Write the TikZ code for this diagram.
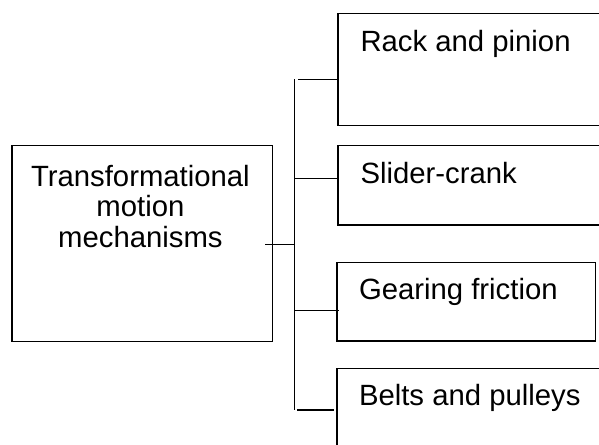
\documentclass[tikz,border=0pt]{standalone}
\usepackage{fontspec}
\setmainfont{Liberation Sans}
\usetikzlibrary{calc}
\begin{document}
\begin{tikzpicture}[x=1pt,y=-1pt,
  box/.style={draw=black, line width=1.4pt, inner sep=0pt, outer sep=0pt, anchor=north west},
  lbl/.style={font=\fontsize{29.3}{30.2}\selectfont, inner sep=0pt, outer sep=0pt},
  conn/.style={draw=black, line width=1.4pt}]
\useasboundingbox (0,0) rectangle (599,444);
\clip (0,0) rectangle (599,444);
% boxes
\node[box, minimum width=260.5pt, minimum height=195.7pt] (main) at (11.8,145.5) {};
\node[box, minimum width=282pt, minimum height=112.4pt] (rack) at (338,13.3) {};
\node[box, minimum width=282pt, minimum height=79.7pt] (slider) at (338,145.3) {};
\node[box, minimum width=258.7pt, minimum height=78.7pt] (gear) at (337,262.3) {};
\node[box, minimum width=283pt, minimum height=110pt] (belts) at (337,368.3) {};
% texts
\node[lbl, align=center, anchor=base] (maintxt) at (140.4,247) {Transformational\\motion\\mechanisms};
\node[lbl, anchor=base west] (racktxt) at (360.5,51.7) {Rack and pinion};
\node[lbl, anchor=base west] (slidertxt) at (360.5,183.3) {Slider-crank};
\node[lbl, anchor=base west] (geartxt) at (359,299.3) {Gearing friction};
\node[lbl, anchor=base west] (beltstxt) at (359,405) {Belts and pulleys};
% connectors
\coordinate (ttop) at (294.3,79.3);
\coordinate (tbot) at (294.3,410);
\coordinate (stub) at (265,244.3);
\coordinate (rackst) at (298.3,79.3);
\coordinate (beltst) at (297.3,410);
\draw[conn] (ttop) -- (tbot);
\draw[conn] (stub) -- (ttop |- stub);
\draw[conn] (rackst) -- ($(rack.west |- rackst)+(-1.5,0)$);
\draw[conn] (ttop |- 0,178.3) -- (slider.west |- 0,178.3);
\draw[conn] (ttop |- 0,310.7) -- ($(gear.west |- 0,310.7)+(2,0)$);
\draw[conn] (beltst) -- ($(belts.west |- beltst)+(-2.7,0)$);
\end{tikzpicture}
\end{document}
